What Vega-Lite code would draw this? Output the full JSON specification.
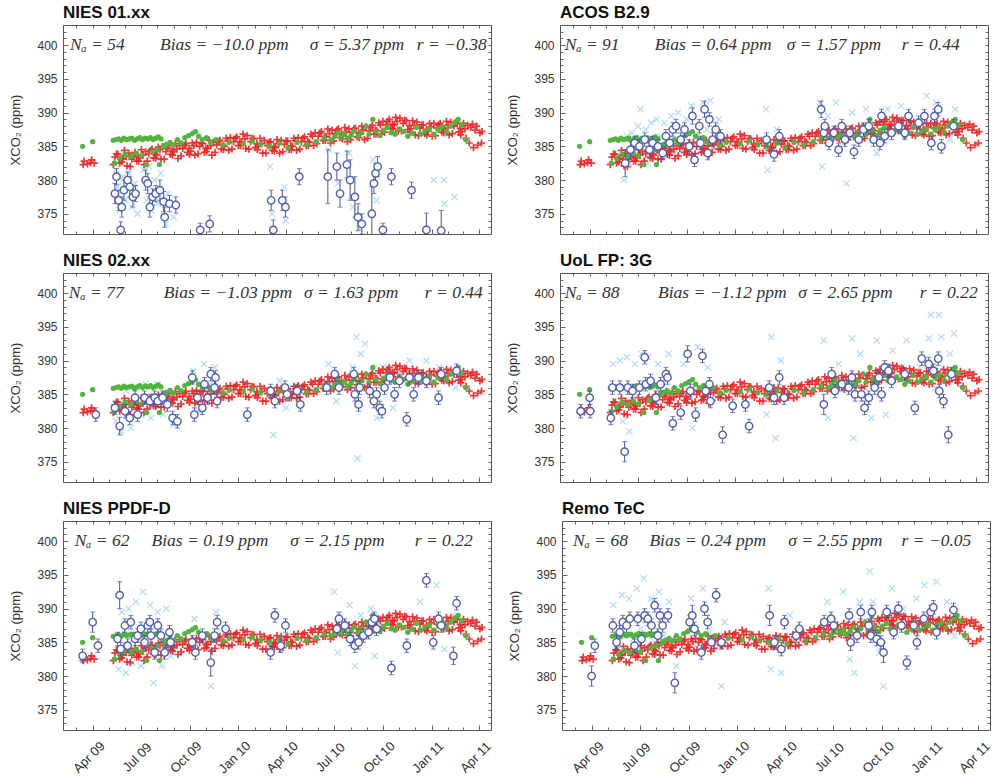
{
"$schema": "https://vega.github.io/schema/vega-lite/v6.json",
"background": "white",
"padding": {"left": 9, "top": 3, "right": 2, "bottom": 2},
"spacing": 16,
"config": {
  "view": {"stroke": "#555", "strokeWidth": 1},
  "font": "Liberation Sans",
  "axis": {"grid": false, "domain": false, "labelFont": "Liberation Sans", "labelFontSize": 12, "labelColor": "#333", "tickColor": "#666", "titleFont": "Liberation Sans", "titleFontWeight": "normal", "titleFontSize": 13, "titleColor": "#333"},
  "title": {"font": "Liberation Sans", "fontSize": 17, "fontWeight": "bold", "anchor": "start", "frame": "group", "offset": 3, "color": "#111"}
},
"datasets": {
"red": [
{"d":"2009-03-14","v":382.3},{"d":"2009-03-16","v":382.8},{"d":"2009-03-22","v":382.4},{"d":"2009-03-28","v":382.6},{"d":"2009-03-30","v":383.0},{"d":"2009-04-04","v":382.5},
{"d":"2009-05-10","v":382.3},{"d":"2009-05-13","v":383.4},{"d":"2009-05-16","v":383.9},
{"d":"2009-05-19","v":383.8},{"d":"2009-05-22","v":382.5},{"d":"2009-05-25","v":383.1},
{"d":"2009-05-28","v":383.2},{"d":"2009-05-31","v":384.4},{"d":"2009-05-26","v":382.7},
{"d":"2009-06-03","v":383.5},{"d":"2009-06-05","v":382.1},{"d":"2009-06-08","v":384.0},
{"d":"2009-06-11","v":382.0},{"d":"2009-06-14","v":383.1},{"d":"2009-06-17","v":383.6},
{"d":"2009-06-20","v":384.1},{"d":"2009-06-23","v":382.8},{"d":"2009-06-26","v":383.4},
{"d":"2009-06-29","v":383.3},{"d":"2009-07-02","v":384.5},{"d":"2009-06-27","v":382.8},
{"d":"2009-07-05","v":383.7},{"d":"2009-07-07","v":382.3},{"d":"2009-07-10","v":384.2},
{"d":"2009-07-13","v":382.8},{"d":"2009-07-16","v":383.9},{"d":"2009-07-19","v":384.4},
{"d":"2009-07-22","v":384.6},{"d":"2009-07-25","v":383.3},{"d":"2009-07-28","v":383.9},
{"d":"2009-07-31","v":383.7},{"d":"2009-08-03","v":384.9},{"d":"2009-07-29","v":383.2},
{"d":"2009-08-06","v":384.5},{"d":"2009-08-08","v":383.1},{"d":"2009-08-11","v":385.0},
{"d":"2009-08-14","v":383.1},{"d":"2009-08-17","v":384.2},{"d":"2009-08-20","v":384.7},
{"d":"2009-08-23","v":385.1},{"d":"2009-08-26","v":383.8},{"d":"2009-08-29","v":384.4},
{"d":"2009-09-01","v":384.2},{"d":"2009-09-04","v":385.4},{"d":"2009-08-30","v":383.7},
{"d":"2009-09-07","v":384.6},{"d":"2009-09-09","v":383.2},{"d":"2009-09-12","v":385.1},
{"d":"2009-09-15","v":383.6},{"d":"2009-09-18","v":384.7},{"d":"2009-09-21","v":385.2},
{"d":"2009-09-24","v":385.4},{"d":"2009-09-27","v":384.1},{"d":"2009-09-30","v":384.7},
{"d":"2009-10-03","v":384.3},{"d":"2009-10-06","v":385.5},{"d":"2009-10-01","v":383.8},
{"d":"2009-10-09","v":385.1},{"d":"2009-10-11","v":383.7},{"d":"2009-10-14","v":385.6},
{"d":"2009-10-17","v":383.9},{"d":"2009-10-20","v":385.0},{"d":"2009-10-23","v":385.5},
{"d":"2009-10-26","v":385.4},{"d":"2009-10-29","v":384.1},{"d":"2009-11-01","v":384.7},
{"d":"2009-11-04","v":384.7},{"d":"2009-11-07","v":385.9},{"d":"2009-11-02","v":384.2},
{"d":"2009-11-10","v":385.1},{"d":"2009-11-12","v":383.7},{"d":"2009-11-15","v":385.6},
{"d":"2009-11-18","v":384.1},{"d":"2009-11-21","v":385.2},{"d":"2009-11-24","v":385.7},
{"d":"2009-11-27","v":385.9},{"d":"2009-11-30","v":384.6},{"d":"2009-12-03","v":385.2},
{"d":"2009-12-06","v":385.0},{"d":"2009-12-09","v":386.2},{"d":"2009-12-04","v":384.5},
{"d":"2009-12-12","v":385.8},{"d":"2009-12-14","v":384.4},{"d":"2009-12-17","v":386.3},
{"d":"2009-12-20","v":384.6},{"d":"2009-12-23","v":385.7},{"d":"2009-12-26","v":386.2},
{"d":"2009-12-29","v":386.4},{"d":"2010-01-01","v":385.1},{"d":"2010-01-04","v":385.7},
{"d":"2010-01-07","v":385.6},{"d":"2010-01-10","v":386.8},{"d":"2010-01-05","v":385.1},
{"d":"2010-01-13","v":386.1},{"d":"2010-01-15","v":384.7},{"d":"2010-01-18","v":386.6},
{"d":"2010-01-21","v":384.6},{"d":"2010-01-24","v":385.7},{"d":"2010-01-27","v":386.2},
{"d":"2010-01-30","v":386.1},{"d":"2010-02-02","v":384.8},{"d":"2010-02-05","v":385.4},
{"d":"2010-02-08","v":385.0},{"d":"2010-02-11","v":386.2},{"d":"2010-02-06","v":384.5},
{"d":"2010-02-14","v":385.4},{"d":"2010-02-16","v":384.0},{"d":"2010-02-19","v":385.9},
{"d":"2010-02-22","v":384.0},{"d":"2010-02-25","v":385.1},{"d":"2010-02-28","v":385.6},
{"d":"2010-03-03","v":385.7},{"d":"2010-03-06","v":384.4},{"d":"2010-03-09","v":385.0},
{"d":"2010-03-12","v":384.8},{"d":"2010-03-15","v":386.0},{"d":"2010-03-10","v":384.3},
{"d":"2010-03-18","v":385.4},{"d":"2010-03-20","v":384.0},{"d":"2010-03-23","v":385.9},
{"d":"2010-03-26","v":384.2},{"d":"2010-03-29","v":385.3},{"d":"2010-04-01","v":385.8},
{"d":"2010-04-04","v":385.8},{"d":"2010-04-07","v":384.5},{"d":"2010-04-10","v":385.1},
{"d":"2010-04-13","v":385.0},{"d":"2010-04-16","v":386.2},{"d":"2010-04-11","v":384.5},
{"d":"2010-04-19","v":385.8},{"d":"2010-04-21","v":384.4},{"d":"2010-04-24","v":386.3},
{"d":"2010-04-27","v":384.6},{"d":"2010-04-30","v":385.7},{"d":"2010-05-03","v":386.2},
{"d":"2010-05-06","v":386.4},{"d":"2010-05-09","v":385.1},{"d":"2010-05-12","v":385.7},
{"d":"2010-05-15","v":385.6},{"d":"2010-05-18","v":386.8},{"d":"2010-05-13","v":385.1},
{"d":"2010-05-21","v":386.5},{"d":"2010-05-23","v":385.1},{"d":"2010-05-26","v":387.0},
{"d":"2010-05-29","v":385.4},{"d":"2010-06-01","v":386.5},{"d":"2010-06-04","v":387.0},
{"d":"2010-06-07","v":387.2},{"d":"2010-06-10","v":385.9},{"d":"2010-06-13","v":386.5},
{"d":"2010-06-16","v":386.4},{"d":"2010-06-19","v":387.6},{"d":"2010-06-14","v":385.9},
{"d":"2010-06-22","v":386.9},{"d":"2010-06-24","v":385.5},{"d":"2010-06-27","v":387.4},
{"d":"2010-06-30","v":385.8},{"d":"2010-07-03","v":386.9},{"d":"2010-07-06","v":387.4},
{"d":"2010-07-09","v":387.6},{"d":"2010-07-12","v":386.3},{"d":"2010-07-15","v":386.9},
{"d":"2010-07-18","v":386.6},{"d":"2010-07-21","v":387.8},{"d":"2010-07-16","v":386.1},
{"d":"2010-07-24","v":387.1},{"d":"2010-07-26","v":385.7},{"d":"2010-07-29","v":387.6},
{"d":"2010-08-01","v":386.0},{"d":"2010-08-04","v":387.1},{"d":"2010-08-07","v":387.6},
{"d":"2010-08-10","v":387.7},{"d":"2010-08-13","v":386.4},{"d":"2010-08-16","v":387.0},
{"d":"2010-08-19","v":386.8},{"d":"2010-08-22","v":388.0},{"d":"2010-08-17","v":386.3},
{"d":"2010-08-25","v":387.4},{"d":"2010-08-27","v":386.0},{"d":"2010-08-30","v":387.9},
{"d":"2010-09-02","v":386.2},{"d":"2010-09-05","v":387.3},{"d":"2010-09-08","v":387.8},
{"d":"2010-09-11","v":388.1},{"d":"2010-09-14","v":386.8},{"d":"2010-09-17","v":387.4},
{"d":"2010-09-20","v":387.3},{"d":"2010-09-23","v":388.5},{"d":"2010-09-18","v":386.8},
{"d":"2010-09-26","v":388.2},{"d":"2010-09-28","v":386.8},{"d":"2010-10-01","v":388.7},
{"d":"2010-10-04","v":387.1},{"d":"2010-10-07","v":388.2},{"d":"2010-10-10","v":388.7},
{"d":"2010-10-13","v":389.0},{"d":"2010-10-16","v":387.7},{"d":"2010-10-19","v":388.3},
{"d":"2010-10-22","v":388.1},{"d":"2010-10-25","v":389.3},{"d":"2010-10-20","v":387.6},
{"d":"2010-10-28","v":388.7},{"d":"2010-10-30","v":387.3},{"d":"2010-11-02","v":389.2},
{"d":"2010-11-05","v":387.3},{"d":"2010-11-08","v":388.4},{"d":"2010-11-11","v":388.9},
{"d":"2010-11-14","v":388.8},{"d":"2010-11-17","v":387.5},{"d":"2010-11-20","v":388.1},
{"d":"2010-11-23","v":387.6},{"d":"2010-11-26","v":388.8},{"d":"2010-11-21","v":387.1},
{"d":"2010-11-29","v":388.1},{"d":"2010-12-01","v":386.7},{"d":"2010-12-04","v":388.6},
{"d":"2010-12-07","v":386.6},{"d":"2010-12-10","v":387.7},{"d":"2010-12-13","v":388.2},
{"d":"2010-12-16","v":388.2},{"d":"2010-12-19","v":386.9},{"d":"2010-12-22","v":387.5},
{"d":"2010-12-25","v":387.2},{"d":"2010-12-28","v":388.4},{"d":"2010-12-23","v":386.7},
{"d":"2010-12-31","v":387.9},{"d":"2011-01-02","v":386.5},{"d":"2011-01-05","v":388.4},
{"d":"2011-01-08","v":386.6},{"d":"2011-01-11","v":387.7},{"d":"2011-01-14","v":388.2},
{"d":"2011-01-17","v":388.4},{"d":"2011-01-20","v":387.1},{"d":"2011-01-23","v":387.7},
{"d":"2011-01-26","v":387.5},{"d":"2011-01-29","v":388.7},{"d":"2011-01-24","v":387.0},
{"d":"2011-02-01","v":388.1},{"d":"2011-02-03","v":386.7},{"d":"2011-02-06","v":388.6},
{"d":"2011-02-09","v":386.9},{"d":"2011-02-12","v":388.0},{"d":"2011-02-15","v":388.5},
{"d":"2011-02-18","v":388.4},{"d":"2011-02-21","v":387.1},{"d":"2011-02-24","v":387.7},
{"d":"2011-02-27","v":387.2},{"d":"2011-03-02","v":388.4},{"d":"2011-02-25","v":386.7},
{"d":"2011-03-05","v":387.6},{"d":"2011-03-07","v":386.2},{"d":"2011-03-10","v":388.1},
{"d":"2011-03-13","v":385.5},{"d":"2011-03-16","v":387.8},{"d":"2011-03-19","v":388.3},
{"d":"2011-03-21","v":384.8},{"d":"2011-03-24","v":387.4},{"d":"2011-03-27","v":388.0},
{"d":"2011-03-29","v":385.2},{"d":"2011-04-02","v":387.0},{"d":"2011-04-05","v":385.5},{"d":"2011-04-06","v":387.2}
],
"green": [
{"d":"2009-03-13","v":385.0},{"d":"2009-04-01","v":385.7},
{"d":"2009-05-10","v":385.9},{"d":"2009-05-15","v":386.0},{"d":"2009-05-20","v":386.1},{"d":"2009-05-25","v":385.9},{"d":"2009-05-30","v":386.2},{"d":"2009-06-04","v":386.0},{"d":"2009-06-09","v":386.1},{"d":"2009-06-14","v":386.2},{"d":"2009-06-19","v":385.9},{"d":"2009-06-24","v":386.1},{"d":"2009-06-29","v":386.3},{"d":"2009-07-04","v":386.0},{"d":"2009-07-09","v":386.2},{"d":"2009-07-14","v":386.1},{"d":"2009-07-19","v":386.3},{"d":"2009-07-24","v":386.0},{"d":"2009-07-29","v":386.2},{"d":"2009-08-03","v":386.4},{"d":"2009-08-08","v":386.1},
{"d":"2009-05-12","v":382.5},{"d":"2009-05-22","v":383.2},{"d":"2009-06-01","v":383.8},{"d":"2009-06-12","v":383.5},{"d":"2009-06-22","v":384.0},{"d":"2009-07-02","v":383.6},{"d":"2009-07-12","v":382.3},{"d":"2009-07-22","v":384.2},{"d":"2009-08-01","v":384.5},{"d":"2009-08-05","v":382.3},{"d":"2009-08-12","v":385.0},{"d":"2009-08-18","v":385.3},{"d":"2009-08-25","v":385.6},{"d":"2009-09-01","v":385.2},{"d":"2009-09-08","v":386.0},{"d":"2009-09-15","v":385.5},{"d":"2009-09-22","v":386.3},{"d":"2009-09-29","v":386.6},{"d":"2009-10-06","v":386.9},{"d":"2009-10-12","v":387.2},{"d":"2009-10-18","v":386.5},{"d":"2009-10-25","v":386.0},{"d":"2009-11-02","v":386.3},{"d":"2009-11-10","v":385.6},{"d":"2009-11-20","v":386.0},{"d":"2009-12-03","v":385.2},{"d":"2009-12-15","v":385.6},
{"d":"2010-01-10","v":385.4},{"d":"2010-01-28","v":385.8},{"d":"2010-02-12","v":385.3},{"d":"2010-03-01","v":385.0},{"d":"2010-03-20","v":385.5},{"d":"2010-04-05","v":384.8},{"d":"2010-04-22","v":385.6},{"d":"2010-05-10","v":385.3},{"d":"2010-05-28","v":385.7},{"d":"2010-06-12","v":386.2},{"d":"2010-06-25","v":386.0},{"d":"2010-07-02","v":386.5},{"d":"2010-07-08","v":387.0},{"d":"2010-07-14","v":386.4},{"d":"2010-07-20","v":386.8},{"d":"2010-07-26","v":386.2},{"d":"2010-08-02","v":386.7},{"d":"2010-08-08","v":387.3},{"d":"2010-08-15","v":386.5},{"d":"2010-08-22","v":387.0},{"d":"2010-08-30","v":388.0},{"d":"2010-09-05","v":386.8},{"d":"2010-09-12","v":389.0},{"d":"2010-09-18","v":387.2},{"d":"2010-09-25","v":386.6},{"d":"2010-10-02","v":387.4},{"d":"2010-10-09","v":387.8},{"d":"2010-10-16","v":387.0},{"d":"2010-10-24","v":386.8},{"d":"2010-11-01","v":387.6},{"d":"2010-11-09","v":387.2},{"d":"2010-11-17","v":386.5},{"d":"2010-11-25","v":387.0},{"d":"2010-12-03","v":387.8},{"d":"2010-12-11","v":386.8},{"d":"2010-12-19","v":387.3},{"d":"2010-12-28","v":387.6},{"d":"2011-01-05","v":386.8},{"d":"2011-01-13","v":387.5},{"d":"2011-01-21","v":387.9},{"d":"2011-01-29","v":387.2},{"d":"2011-02-06","v":388.0},{"d":"2011-02-14","v":388.6},{"d":"2011-02-20","v":389.0},{"d":"2011-02-26","v":388.2},{"d":"2011-03-06","v":386.0}
],
"obs": [
{"p":1,"d":"2009-05-13","v":378.0,"e":1.5},{"p":1,"d":"2009-05-16","v":380.5,"e":1.2},{"p":1,"d":"2009-05-20","v":377.0,"e":1.5},{"p":1,"d":"2009-05-24","v":372.6,"e":1.2},{"p":1,"d":"2009-05-26","v":376.0,"e":1.5},{"p":1,"d":"2009-05-30","v":378.5,"e":1.5},{"p":1,"d":"2009-06-06","v":380.0,"e":1.2},{"p":1,"d":"2009-06-10","v":379.0,"e":1.5},{"p":1,"d":"2009-06-16","v":377.5,"e":1.5},{"p":1,"d":"2009-06-21","v":378.0,"e":1.2},{"p":1,"d":"2009-07-10","v":380.0,"e":1.5},{"p":1,"d":"2009-07-14","v":379.5,"e":1.5},{"p":1,"d":"2009-07-18","v":376.0,"e":1.5},{"p":1,"d":"2009-07-23","v":377.5,"e":1.2},{"p":1,"d":"2009-07-29","v":378.0,"e":1.2},{"p":1,"d":"2009-08-06","v":378.5,"e":1.5},{"p":1,"d":"2009-08-13","v":376.8,"e":1.5},{"p":1,"d":"2009-08-15","v":374.5,"e":1.5},{"p":1,"d":"2009-08-24","v":376.5,"e":1.2},{"p":1,"d":"2009-09-05","v":376.3,"e":1.2},{"p":1,"d":"2009-10-21","v":372.6,"e":1.0},{"p":1,"d":"2009-11-08","v":373.5,"e":1.2},{"p":1,"d":"2010-03-04","v":377.0,"e":1.5},{"p":1,"d":"2010-03-08","v":372.6,"e":1.5},{"p":1,"d":"2010-03-25","v":377.0,"e":1.5},{"p":1,"d":"2010-03-31","v":376.0,"e":1.5},{"p":1,"d":"2010-04-26","v":380.5,"e":1.2},{"p":1,"d":"2010-06-19","v":380.5,"e":4.0},{"p":1,"d":"2010-07-06","v":382.0,"e":2.0},{"p":1,"d":"2010-07-12","v":378.0,"e":2.0},{"p":1,"d":"2010-07-25","v":382.3,"e":2.0},{"p":1,"d":"2010-07-31","v":380.0,"e":3.0},{"p":1,"d":"2010-08-09","v":377.5,"e":3.0},{"p":1,"d":"2010-08-15","v":374.5,"e":2.0},{"p":1,"d":"2010-08-22","v":373.5,"e":1.5},{"p":1,"d":"2010-09-10","v":375.0,"e":4.0},{"p":1,"d":"2010-09-14","v":379.5,"e":1.5},{"p":1,"d":"2010-09-17","v":381.0,"e":1.5},{"p":1,"d":"2010-09-21","v":382.0,"e":1.5},{"p":1,"d":"2010-10-01","v":372.6,"e":1.0},{"p":1,"d":"2010-10-17","v":380.5,"e":1.2},{"p":1,"d":"2010-11-24","v":378.5,"e":1.2},{"p":1,"d":"2010-12-22","v":372.6,"e":2.5},{"p":1,"d":"2011-01-19","v":372.5,"e":3.0},
{"p":2,"d":"2009-06-07","v":382.5,"e":2.0},{"p":2,"d":"2009-06-17","v":384.5,"e":1.2},{"p":2,"d":"2009-06-25","v":385.5,"e":1.0},{"p":2,"d":"2009-07-04","v":385.0,"e":1.0},{"p":2,"d":"2009-07-14","v":386.0,"e":1.0},{"p":2,"d":"2009-07-23","v":384.5,"e":1.0},{"p":2,"d":"2009-07-29","v":385.5,"e":1.0},{"p":2,"d":"2009-08-08","v":385.0,"e":1.0},{"p":2,"d":"2009-08-17","v":384.0,"e":1.0},{"p":2,"d":"2009-08-23","v":386.5,"e":1.0},{"p":2,"d":"2009-08-30","v":385.5,"e":1.0},{"p":2,"d":"2009-09-05","v":387.5,"e":1.0},{"p":2,"d":"2009-09-11","v":388.0,"e":1.0},{"p":2,"d":"2009-09-20","v":386.0,"e":1.0},{"p":2,"d":"2009-09-27","v":387.5,"e":1.0},{"p":2,"d":"2009-10-06","v":385.0,"e":1.0},{"p":2,"d":"2009-10-12","v":389.5,"e":1.2},{"p":2,"d":"2009-10-16","v":383.0,"e":1.0},{"p":2,"d":"2009-10-25","v":388.0,"e":1.0},{"p":2,"d":"2009-10-27","v":385.5,"e":1.0},{"p":2,"d":"2009-11-04","v":390.5,"e":1.2},{"p":2,"d":"2009-11-10","v":384.0,"e":1.0},{"p":2,"d":"2009-11-13","v":389.0,"e":1.0},{"p":2,"d":"2009-11-19","v":386.0,"e":1.0},{"p":2,"d":"2009-11-25","v":387.5,"e":1.0},{"p":2,"d":"2009-12-04","v":386.5,"e":1.0},{"p":2,"d":"2010-03-01","v":386.0,"e":1.0},{"p":2,"d":"2010-03-15","v":383.8,"e":1.0},{"p":2,"d":"2010-03-25","v":386.5,"e":1.0},{"p":2,"d":"2010-06-12","v":390.5,"e":1.2},{"p":2,"d":"2010-06-17","v":387.0,"e":1.0},{"p":2,"d":"2010-06-19","v":388.0,"e":1.0},{"p":2,"d":"2010-06-27","v":385.5,"e":1.0},{"p":2,"d":"2010-07-06","v":387.0,"e":1.0},{"p":2,"d":"2010-07-15","v":384.5,"e":1.0},{"p":2,"d":"2010-07-21","v":388.0,"e":1.0},{"p":2,"d":"2010-07-27","v":386.0,"e":1.0},{"p":2,"d":"2010-08-05","v":387.0,"e":1.0},{"p":2,"d":"2010-08-13","v":384.2,"e":1.0},{"p":2,"d":"2010-08-22","v":386.0,"e":1.0},{"p":2,"d":"2010-08-31","v":387.5,"e":1.0},{"p":2,"d":"2010-09-10","v":388.0,"e":1.0},{"p":2,"d":"2010-09-19","v":386.0,"e":1.0},{"p":2,"d":"2010-10-01","v":385.5,"e":1.0},{"p":2,"d":"2010-10-04","v":389.5,"e":1.0},{"p":2,"d":"2010-10-10","v":386.5,"e":1.0},{"p":2,"d":"2010-10-23","v":387.0,"e":1.0},{"p":2,"d":"2010-11-05","v":388.0,"e":1.0},{"p":2,"d":"2010-11-17","v":387.0,"e":1.0},{"p":2,"d":"2010-11-24","v":389.5,"e":1.0},{"p":2,"d":"2010-12-13","v":388.5,"e":1.0},{"p":2,"d":"2010-12-24","v":389.5,"e":1.0},{"p":2,"d":"2011-01-06","v":385.5,"e":1.0},{"p":2,"d":"2011-01-12","v":389.5,"e":1.0},{"p":2,"d":"2011-01-19","v":390.5,"e":1.0},{"p":2,"d":"2011-01-25","v":385.0,"e":1.0},{"p":2,"d":"2011-02-17","v":388.0,"e":1.0},
{"p":3,"d":"2009-04-07","v":382.0,"e":1.0},{"p":3,"d":"2009-05-13","v":383.0,"e":1.0},{"p":3,"d":"2009-05-22","v":380.3,"e":1.3},{"p":3,"d":"2009-06-01","v":382.5,"e":1.0},{"p":3,"d":"2009-06-10","v":381.5,"e":1.0},{"p":3,"d":"2009-06-20","v":384.5,"e":1.0},{"p":3,"d":"2009-06-25","v":382.0,"e":1.0},{"p":3,"d":"2009-07-08","v":384.5,"e":1.0},{"p":3,"d":"2009-07-18","v":384.0,"e":1.0},{"p":3,"d":"2009-07-27","v":384.5,"e":1.0},{"p":3,"d":"2009-08-02","v":384.0,"e":1.0},{"p":3,"d":"2009-08-11","v":384.5,"e":1.0},{"p":3,"d":"2009-08-20","v":383.5,"e":1.0},{"p":3,"d":"2009-08-30","v":381.5,"e":1.0},{"p":3,"d":"2009-09-08","v":381.0,"e":1.0},{"p":3,"d":"2009-10-06","v":387.5,"e":1.0},{"p":3,"d":"2009-10-10","v":382.0,"e":1.0},{"p":3,"d":"2009-10-16","v":384.5,"e":1.0},{"p":3,"d":"2009-10-25","v":383.0,"e":1.0},{"p":3,"d":"2009-10-29","v":386.5,"e":1.0},{"p":3,"d":"2009-11-04","v":384.5,"e":1.0},{"p":3,"d":"2009-11-10","v":388.0,"e":1.0},{"p":3,"d":"2009-11-17","v":386.0,"e":1.0},{"p":3,"d":"2009-11-19","v":387.5,"e":1.0},{"p":3,"d":"2009-11-22","v":384.0,"e":1.0},{"p":3,"d":"2010-01-18","v":382.0,"e":1.0},{"p":3,"d":"2010-03-03","v":385.5,"e":1.0},{"p":3,"d":"2010-03-11","v":384.0,"e":1.0},{"p":3,"d":"2010-03-30","v":386.0,"e":1.0},{"p":3,"d":"2010-04-03","v":385.0,"e":1.0},{"p":3,"d":"2010-04-22","v":385.5,"e":1.0},{"p":3,"d":"2010-04-28","v":383.5,"e":1.0},{"p":3,"d":"2010-06-17","v":386.0,"e":1.0},{"p":3,"d":"2010-07-02","v":388.0,"e":1.0},{"p":3,"d":"2010-07-10","v":386.0,"e":1.0},{"p":3,"d":"2010-08-07","v":388.0,"e":1.0},{"p":3,"d":"2010-08-09","v":385.0,"e":1.0},{"p":3,"d":"2010-08-16","v":383.5,"e":1.0},{"p":3,"d":"2010-08-18","v":386.0,"e":1.0},{"p":3,"d":"2010-09-06","v":385.5,"e":1.0},{"p":3,"d":"2010-09-14","v":384.0,"e":1.0},{"p":3,"d":"2010-09-19","v":385.0,"e":1.0},{"p":3,"d":"2010-09-25","v":383.0,"e":1.0},{"p":3,"d":"2010-09-29","v":382.5,"e":1.0},{"p":3,"d":"2010-10-04","v":386.0,"e":1.0},{"p":3,"d":"2010-10-14","v":387.5,"e":1.0},{"p":3,"d":"2010-10-23","v":385.0,"e":1.0},{"p":3,"d":"2010-11-01","v":387.0,"e":1.0},{"p":3,"d":"2010-11-15","v":381.3,"e":1.0},{"p":3,"d":"2010-11-20","v":387.5,"e":1.0},{"p":3,"d":"2010-11-28","v":385.0,"e":1.0},{"p":3,"d":"2010-12-07","v":387.5,"e":1.0},{"p":3,"d":"2010-12-22","v":387.0,"e":1.0},{"p":3,"d":"2011-01-14","v":384.5,"e":1.0},{"p":3,"d":"2011-01-19","v":388.0,"e":1.0},{"p":3,"d":"2011-02-17","v":388.5,"e":1.0},
{"p":4,"d":"2009-03-15","v":382.5,"e":1.0},{"p":4,"d":"2009-04-01","v":384.5,"e":1.0},{"p":4,"d":"2009-04-02","v":382.5,"e":1.0},{"p":4,"d":"2009-05-11","v":381.5,"e":1.0},{"p":4,"d":"2009-05-14","v":386.0,"e":1.0},{"p":4,"d":"2009-05-28","v":386.0,"e":1.0},{"p":4,"d":"2009-06-06","v":376.5,"e":1.5},{"p":4,"d":"2009-06-12","v":386.0,"e":1.0},{"p":4,"d":"2009-06-21","v":385.5,"e":1.0},{"p":4,"d":"2009-07-04","v":386.0,"e":1.0},{"p":4,"d":"2009-07-14","v":390.5,"e":1.0},{"p":4,"d":"2009-07-16","v":386.5,"e":1.0},{"p":4,"d":"2009-07-25","v":387.0,"e":1.0},{"p":4,"d":"2009-08-04","v":384.5,"e":1.0},{"p":4,"d":"2009-08-13","v":386.5,"e":1.0},{"p":4,"d":"2009-08-23","v":388.0,"e":1.0},{"p":4,"d":"2009-08-26","v":387.5,"e":1.0},{"p":4,"d":"2009-09-05","v":380.7,"e":1.0},{"p":4,"d":"2009-09-20","v":382.3,"e":1.0},{"p":4,"d":"2009-10-03","v":391.0,"e":1.2},{"p":4,"d":"2009-10-08","v":385.5,"e":1.0},{"p":4,"d":"2009-10-18","v":382.0,"e":1.0},{"p":4,"d":"2009-10-31","v":390.7,"e":1.0},{"p":4,"d":"2009-11-06","v":385.5,"e":1.0},{"p":4,"d":"2009-11-13","v":386.5,"e":1.0},{"p":4,"d":"2009-11-15","v":384.0,"e":1.0},{"p":4,"d":"2009-12-08","v":379.0,"e":1.2},{"p":4,"d":"2009-12-27","v":383.3,"e":1.0},{"p":4,"d":"2010-01-20","v":383.5,"e":1.0},{"p":4,"d":"2010-01-27","v":380.3,"e":1.0},{"p":4,"d":"2010-03-06","v":386.0,"e":1.0},{"p":4,"d":"2010-03-15","v":384.5,"e":1.0},{"p":4,"d":"2010-03-25","v":387.5,"e":1.0},{"p":4,"d":"2010-04-03","v":384.5,"e":1.0},{"p":4,"d":"2010-06-17","v":383.5,"e":1.5},{"p":4,"d":"2010-07-02","v":388.0,"e":1.0},{"p":4,"d":"2010-07-08","v":385.5,"e":1.0},{"p":4,"d":"2010-07-21","v":386.5,"e":1.0},{"p":4,"d":"2010-08-03","v":386.0,"e":1.0},{"p":4,"d":"2010-08-09","v":387.5,"e":1.0},{"p":4,"d":"2010-08-15","v":385.0,"e":1.0},{"p":4,"d":"2010-08-27","v":385.0,"e":1.0},{"p":4,"d":"2010-09-02","v":383.0,"e":1.0},{"p":4,"d":"2010-09-10","v":384.5,"e":1.0},{"p":4,"d":"2010-09-21","v":386.0,"e":1.0},{"p":4,"d":"2010-09-29","v":387.5,"e":1.0},{"p":4,"d":"2010-10-04","v":385.0,"e":1.0},{"p":4,"d":"2010-10-10","v":389.0,"e":1.0},{"p":4,"d":"2010-10-17","v":388.5,"e":1.0},{"p":4,"d":"2010-10-23","v":387.0,"e":1.0},{"p":4,"d":"2010-11-17","v":388.0,"e":1.0},{"p":4,"d":"2010-12-06","v":383.0,"e":1.0},{"p":4,"d":"2010-12-19","v":390.3,"e":1.0},{"p":4,"d":"2011-01-01","v":389.5,"e":1.0},{"p":4,"d":"2011-01-10","v":388.5,"e":1.0},{"p":4,"d":"2011-01-19","v":390.3,"e":1.0},{"p":4,"d":"2011-01-21","v":385.5,"e":1.0},{"p":4,"d":"2011-01-29","v":384.0,"e":1.0},{"p":4,"d":"2011-02-07","v":379.0,"e":1.2},{"p":4,"d":"2011-02-13","v":388.0,"e":1.0},
{"p":5,"d":"2009-03-13","v":383.0,"e":1.0},{"p":5,"d":"2009-04-01","v":388.0,"e":1.5},{"p":5,"d":"2009-04-11","v":384.5,"e":1.0},{"p":5,"d":"2009-05-18","v":385.5,"e":1.0},{"p":5,"d":"2009-05-22","v":392.0,"e":2.0},{"p":5,"d":"2009-05-24","v":384.0,"e":1.0},{"p":5,"d":"2009-06-01","v":387.5,"e":1.0},{"p":5,"d":"2009-06-06","v":384.5,"e":1.0},{"p":5,"d":"2009-06-12","v":388.0,"e":1.0},{"p":5,"d":"2009-06-20","v":385.5,"e":1.0},{"p":5,"d":"2009-06-25","v":386.0,"e":1.0},{"p":5,"d":"2009-07-01","v":387.0,"e":1.0},{"p":5,"d":"2009-07-08","v":385.0,"e":1.0},{"p":5,"d":"2009-07-14","v":387.5,"e":1.0},{"p":5,"d":"2009-07-18","v":388.0,"e":1.0},{"p":5,"d":"2009-07-20","v":386.0,"e":1.0},{"p":5,"d":"2009-07-27","v":383.5,"e":1.0},{"p":5,"d":"2009-08-02","v":387.5,"e":1.0},{"p":5,"d":"2009-08-08","v":386.0,"e":1.0},{"p":5,"d":"2009-08-15","v":383.5,"e":1.0},{"p":5,"d":"2009-08-24","v":386.5,"e":1.0},{"p":5,"d":"2009-08-26","v":385.0,"e":1.0},{"p":5,"d":"2009-10-06","v":385.0,"e":1.0},{"p":5,"d":"2009-10-12","v":383.5,"e":1.0},{"p":5,"d":"2009-10-25","v":386.0,"e":1.0},{"p":5,"d":"2009-11-10","v":382.0,"e":2.0},{"p":5,"d":"2009-11-17","v":386.0,"e":1.0},{"p":5,"d":"2009-11-22","v":388.0,"e":1.0},{"p":5,"d":"2009-12-08","v":387.0,"e":1.0},{"p":5,"d":"2010-03-03","v":383.5,"e":1.0},{"p":5,"d":"2010-03-11","v":389.0,"e":1.0},{"p":5,"d":"2010-03-22","v":384.5,"e":1.0},{"p":5,"d":"2010-03-31","v":387.5,"e":1.0},{"p":5,"d":"2010-07-06","v":387.0,"e":1.0},{"p":5,"d":"2010-07-10","v":388.5,"e":1.0},{"p":5,"d":"2010-07-21","v":387.5,"e":1.0},{"p":5,"d":"2010-07-31","v":385.5,"e":1.0},{"p":5,"d":"2010-08-09","v":384.5,"e":1.0},{"p":5,"d":"2010-08-16","v":385.0,"e":1.0},{"p":5,"d":"2010-08-25","v":386.0,"e":1.0},{"p":5,"d":"2010-09-04","v":386.5,"e":1.0},{"p":5,"d":"2010-09-10","v":388.0,"e":1.0},{"p":5,"d":"2010-09-15","v":388.5,"e":1.0},{"p":5,"d":"2010-09-19","v":387.0,"e":1.0},{"p":5,"d":"2010-10-17","v":381.2,"e":1.0},{"p":5,"d":"2010-11-15","v":384.5,"e":1.0},{"p":5,"d":"2010-12-22","v":394.2,"e":1.0},{"p":5,"d":"2011-01-04","v":385.0,"e":1.0},{"p":5,"d":"2011-01-14","v":388.5,"e":1.0},{"p":5,"d":"2011-01-19","v":387.5,"e":1.0},{"p":5,"d":"2011-02-11","v":383.0,"e":1.3},{"p":5,"d":"2011-02-17","v":390.8,"e":1.0},
{"p":6,"d":"2009-04-01","v":380.0,"e":1.5},{"p":6,"d":"2009-04-07","v":384.5,"e":1.0},{"p":6,"d":"2009-05-11","v":387.5,"e":1.0},{"p":6,"d":"2009-05-18","v":385.0,"e":1.0},{"p":6,"d":"2009-05-24","v":386.5,"e":1.0},{"p":6,"d":"2009-05-30","v":388.0,"e":1.0},{"p":6,"d":"2009-06-06","v":387.5,"e":1.0},{"p":6,"d":"2009-06-12","v":388.5,"e":1.0},{"p":6,"d":"2009-06-21","v":384.5,"e":1.0},{"p":6,"d":"2009-06-27","v":388.5,"e":1.0},{"p":6,"d":"2009-07-04","v":385.5,"e":1.0},{"p":6,"d":"2009-07-10","v":389.0,"e":1.0},{"p":6,"d":"2009-07-16","v":388.5,"e":1.0},{"p":6,"d":"2009-07-23","v":387.5,"e":1.0},{"p":6,"d":"2009-07-29","v":390.5,"e":1.0},{"p":6,"d":"2009-08-04","v":386.0,"e":1.0},{"p":6,"d":"2009-08-08","v":389.0,"e":1.0},{"p":6,"d":"2009-08-13","v":387.5,"e":1.0},{"p":6,"d":"2009-08-23","v":389.0,"e":1.0},{"p":6,"d":"2009-09-05","v":379.0,"e":1.5},{"p":6,"d":"2009-10-03","v":388.0,"e":1.0},{"p":6,"d":"2009-10-08","v":389.0,"e":1.5},{"p":6,"d":"2009-10-12","v":387.0,"e":1.0},{"p":6,"d":"2009-10-25","v":383.5,"e":1.0},{"p":6,"d":"2009-10-31","v":390.0,"e":1.0},{"p":6,"d":"2009-11-06","v":388.0,"e":1.0},{"p":6,"d":"2009-11-13","v":385.0,"e":1.0},{"p":6,"d":"2009-11-22","v":392.0,"e":1.0},{"p":6,"d":"2009-12-02","v":385.0,"e":1.0},{"p":6,"d":"2010-03-03","v":389.0,"e":1.5},{"p":6,"d":"2010-03-12","v":385.0,"e":1.0},{"p":6,"d":"2010-03-25","v":384.0,"e":1.0},{"p":6,"d":"2010-03-31","v":388.0,"e":1.0},{"p":6,"d":"2010-04-22","v":386.0,"e":1.0},{"p":6,"d":"2010-04-28","v":387.0,"e":1.0},{"p":6,"d":"2010-06-14","v":388.0,"e":1.0},{"p":6,"d":"2010-06-27","v":388.5,"e":1.0},{"p":6,"d":"2010-07-02","v":387.5,"e":1.0},{"p":6,"d":"2010-07-31","v":389.0,"e":1.0},{"p":6,"d":"2010-08-03","v":385.0,"e":1.2},{"p":6,"d":"2010-08-15","v":386.0,"e":1.0},{"p":6,"d":"2010-08-22","v":389.5,"e":1.0},{"p":6,"d":"2010-09-06","v":387.5,"e":1.0},{"p":6,"d":"2010-09-10","v":386.0,"e":1.0},{"p":6,"d":"2010-09-12","v":389.5,"e":1.0},{"p":6,"d":"2010-09-21","v":385.5,"e":1.0},{"p":6,"d":"2010-09-29","v":385.0,"e":1.0},{"p":6,"d":"2010-10-04","v":383.5,"e":1.5},{"p":6,"d":"2010-10-10","v":389.5,"e":1.0},{"p":6,"d":"2010-10-23","v":386.5,"e":1.0},{"p":6,"d":"2010-11-01","v":390.0,"e":1.0},{"p":6,"d":"2010-11-07","v":387.5,"e":1.0},{"p":6,"d":"2010-11-17","v":382.0,"e":1.0},{"p":6,"d":"2010-11-30","v":387.5,"e":1.0},{"p":6,"d":"2010-12-06","v":385.0,"e":1.0},{"p":6,"d":"2010-12-19","v":388.5,"e":1.0},{"p":6,"d":"2011-01-01","v":389.5,"e":1.0},{"p":6,"d":"2011-01-06","v":390.2,"e":1.0},{"p":6,"d":"2011-01-12","v":386.5,"e":1.0},{"p":6,"d":"2011-02-13","v":389.8,"e":1.0}
],
"cross": [
{"p":1,"d":"2009-05-15","v":381.5},{"p":1,"d":"2009-05-18","v":379.0},{"p":1,"d":"2009-05-22","v":375.5},{"p":1,"d":"2009-05-28","v":380.5},{"p":1,"d":"2009-06-02","v":377.0},{"p":1,"d":"2009-06-08","v":381.0},{"p":1,"d":"2009-06-14","v":376.0},{"p":1,"d":"2009-06-20","v":379.5},{"p":1,"d":"2009-06-25","v":375.0},{"p":1,"d":"2009-07-06","v":381.5},{"p":1,"d":"2009-07-12","v":377.0},{"p":1,"d":"2009-07-16","v":382.0},{"p":1,"d":"2009-07-21","v":375.5},{"p":1,"d":"2009-07-27","v":380.0},{"p":1,"d":"2009-08-02","v":376.5},{"p":1,"d":"2009-08-08","v":381.0},{"p":1,"d":"2009-08-17","v":373.5},{"p":1,"d":"2009-08-20","v":378.0},{"p":1,"d":"2009-09-01","v":374.5},{"p":1,"d":"2010-03-02","v":382.0},{"p":1,"d":"2010-03-06","v":375.0},{"p":1,"d":"2010-03-29","v":379.0},{"p":1,"d":"2010-04-01","v":374.0},{"p":1,"d":"2010-06-21","v":384.5},{"p":1,"d":"2010-07-08","v":379.5},{"p":1,"d":"2010-07-29","v":384.0},{"p":1,"d":"2010-08-05","v":376.0},{"p":1,"d":"2010-08-17","v":372.8},{"p":1,"d":"2010-09-12","v":383.0},{"p":1,"d":"2010-09-19","v":377.0},{"p":1,"d":"2011-01-05","v":380.0},{"p":1,"d":"2011-01-24","v":380.0},{"p":1,"d":"2011-01-25","v":376.5},{"p":1,"d":"2011-02-13","v":377.5},
{"p":2,"d":"2009-06-05","v":380.0},{"p":2,"d":"2009-06-10","v":386.5},{"p":2,"d":"2009-06-15","v":382.5},{"p":2,"d":"2009-06-20","v":387.0},{"p":2,"d":"2009-06-25","v":383.5},{"p":2,"d":"2009-07-01","v":388.0},{"p":2,"d":"2009-07-06","v":390.5},{"p":2,"d":"2009-07-10","v":383.0},{"p":2,"d":"2009-07-16","v":387.5},{"p":2,"d":"2009-07-20","v":382.5},{"p":2,"d":"2009-07-26","v":388.5},{"p":2,"d":"2009-08-01","v":383.5},{"p":2,"d":"2009-08-05","v":389.0},{"p":2,"d":"2009-08-12","v":386.5},{"p":2,"d":"2009-08-20","v":388.5},{"p":2,"d":"2009-08-25","v":383.5},{"p":2,"d":"2009-09-02","v":389.5},{"p":2,"d":"2009-09-08","v":384.0},{"p":2,"d":"2009-09-15","v":390.0},{"p":2,"d":"2009-09-22","v":384.5},{"p":2,"d":"2009-10-01","v":389.0},{"p":2,"d":"2009-10-10","v":391.0},{"p":2,"d":"2009-10-20","v":386.5},{"p":2,"d":"2009-11-01","v":391.5},{"p":2,"d":"2009-11-08","v":387.5},{"p":2,"d":"2009-11-15","v":391.8},{"p":2,"d":"2009-11-22","v":384.5},{"p":2,"d":"2009-12-01","v":389.0},{"p":2,"d":"2010-02-28","v":390.5},{"p":2,"d":"2010-03-03","v":381.5},{"p":2,"d":"2010-03-20","v":387.5},{"p":2,"d":"2010-06-10","v":391.5},{"p":2,"d":"2010-06-14","v":382.0},{"p":2,"d":"2010-06-25","v":389.5},{"p":2,"d":"2010-07-10","v":391.5},{"p":2,"d":"2010-07-30","v":379.5},{"p":2,"d":"2010-08-10","v":390.0},{"p":2,"d":"2010-09-05","v":390.5},{"p":2,"d":"2010-09-25","v":384.0},{"p":2,"d":"2010-10-15","v":390.5},{"p":2,"d":"2010-11-10","v":391.0},{"p":2,"d":"2010-12-05","v":387.0},{"p":2,"d":"2010-12-28","v":392.5},{"p":2,"d":"2011-01-15","v":391.5},{"p":2,"d":"2011-02-20","v":390.5},{"p":2,"d":"2011-02-10","v":386.0},
{"p":3,"d":"2009-05-15","v":381.0},{"p":3,"d":"2009-05-25","v":379.5},{"p":3,"d":"2009-06-03","v":385.5},{"p":3,"d":"2009-06-12","v":380.0},{"p":3,"d":"2009-06-22","v":386.0},{"p":3,"d":"2009-07-01","v":382.0},{"p":3,"d":"2009-07-10","v":386.5},{"p":3,"d":"2009-07-20","v":381.5},{"p":3,"d":"2009-08-01","v":386.5},{"p":3,"d":"2009-08-12","v":382.0},{"p":3,"d":"2009-08-22","v":385.5},{"p":3,"d":"2009-09-01","v":380.5},{"p":3,"d":"2009-10-08","v":388.5},{"p":3,"d":"2009-10-18","v":382.5},{"p":3,"d":"2009-10-28","v":389.5},{"p":3,"d":"2009-11-08","v":386.5},{"p":3,"d":"2009-11-18","v":389.0},{"p":3,"d":"2010-03-08","v":379.0},{"p":3,"d":"2010-03-20","v":387.0},{"p":3,"d":"2010-04-01","v":383.0},{"p":3,"d":"2010-06-20","v":389.5},{"p":3,"d":"2010-07-05","v":384.0},{"p":3,"d":"2010-08-05","v":389.0},{"p":3,"d":"2010-08-12","v":393.5},{"p":3,"d":"2010-08-14","v":375.5},{"p":3,"d":"2010-08-20","v":391.0},{"p":3,"d":"2010-08-28","v":392.5},{"p":3,"d":"2010-09-10","v":388.5},{"p":3,"d":"2010-09-20","v":381.5},{"p":3,"d":"2010-10-01","v":389.0},{"p":3,"d":"2010-10-20","v":383.0},{"p":3,"d":"2010-11-20","v":390.0},{"p":3,"d":"2010-12-22","v":390.0},{"p":3,"d":"2011-01-15","v":389.0},{"p":3,"d":"2011-02-15","v":386.0},
{"p":4,"d":"2009-05-15","v":389.5},{"p":4,"d":"2009-05-20","v":383.0},{"p":4,"d":"2009-05-28","v":390.0},{"p":4,"d":"2009-06-03","v":381.0},{"p":4,"d":"2009-06-10","v":390.5},{"p":4,"d":"2009-06-15","v":379.5},{"p":4,"d":"2009-06-25","v":389.5},{"p":4,"d":"2009-07-01","v":383.5},{"p":4,"d":"2009-07-08","v":391.0},{"p":4,"d":"2009-07-12","v":384.0},{"p":4,"d":"2009-07-20","v":390.5},{"p":4,"d":"2009-08-01","v":383.5},{"p":4,"d":"2009-08-08","v":389.5},{"p":4,"d":"2009-08-18","v":383.0},{"p":4,"d":"2009-08-28","v":391.0},{"p":4,"d":"2009-09-08","v":384.5},{"p":4,"d":"2009-09-25","v":389.5},{"p":4,"d":"2009-10-12","v":380.0},{"p":4,"d":"2009-10-22","v":392.0},{"p":4,"d":"2009-11-10","v":389.0},{"p":4,"d":"2010-03-01","v":382.0},{"p":4,"d":"2010-03-10","v":393.5},{"p":4,"d":"2010-03-18","v":378.5},{"p":4,"d":"2010-03-28","v":390.0},{"p":4,"d":"2010-06-17","v":393.0},{"p":4,"d":"2010-06-25","v":381.5},{"p":4,"d":"2010-07-15","v":389.5},{"p":4,"d":"2010-08-10","v":393.3},{"p":4,"d":"2010-08-12","v":378.5},{"p":4,"d":"2010-08-25","v":391.0},{"p":4,"d":"2010-09-15","v":381.5},{"p":4,"d":"2010-09-25","v":393.0},{"p":4,"d":"2010-10-12","v":382.0},{"p":4,"d":"2010-10-25","v":391.5},{"p":4,"d":"2010-11-20","v":393.0},{"p":4,"d":"2010-12-15","v":389.0},{"p":4,"d":"2011-01-01","v":393.3},{"p":4,"d":"2011-01-05","v":396.8},{"p":4,"d":"2011-01-20","v":396.8},{"p":4,"d":"2011-01-25","v":393.5},{"p":4,"d":"2011-02-10","v":391.0},{"p":4,"d":"2011-02-18","v":394.0},{"p":4,"d":"2011-01-14","v":386.0},
{"p":5,"d":"2009-05-20","v":381.0},{"p":5,"d":"2009-05-26","v":389.5},{"p":5,"d":"2009-06-03","v":380.5},{"p":5,"d":"2009-06-08","v":390.0},{"p":5,"d":"2009-06-15","v":382.0},{"p":5,"d":"2009-06-22","v":391.0},{"p":5,"d":"2009-07-01","v":381.5},{"p":5,"d":"2009-07-05","v":392.5},{"p":5,"d":"2009-07-12","v":383.0},{"p":5,"d":"2009-07-18","v":390.5},{"p":5,"d":"2009-07-25","v":379.0},{"p":5,"d":"2009-08-02","v":389.5},{"p":5,"d":"2009-08-10","v":381.5},{"p":5,"d":"2009-08-18","v":390.0},{"p":5,"d":"2009-08-26","v":383.0},{"p":5,"d":"2009-10-10","v":388.5},{"p":5,"d":"2009-11-10","v":378.5},{"p":5,"d":"2009-11-20","v":389.5},{"p":5,"d":"2010-03-05","v":385.0},{"p":5,"d":"2010-07-01","v":392.5},{"p":5,"d":"2010-07-08","v":383.5},{"p":5,"d":"2010-07-30","v":390.5},{"p":5,"d":"2010-08-09","v":381.5},{"p":5,"d":"2010-08-20","v":389.0},{"p":5,"d":"2010-09-08","v":390.0},{"p":5,"d":"2010-09-15","v":383.0},{"p":5,"d":"2010-12-10","v":391.0},{"p":5,"d":"2011-01-10","v":393.5},{"p":5,"d":"2011-01-25","v":384.0},{"p":5,"d":"2011-02-10","v":389.0},
{"p":6,"d":"2009-05-12","v":390.5},{"p":6,"d":"2009-05-20","v":384.0},{"p":6,"d":"2009-05-28","v":392.0},{"p":6,"d":"2009-06-03","v":386.0},{"p":6,"d":"2009-06-10","v":391.5},{"p":6,"d":"2009-06-18","v":385.5},{"p":6,"d":"2009-06-25","v":393.0},{"p":6,"d":"2009-07-02","v":387.0},{"p":6,"d":"2009-07-08","v":394.5},{"p":6,"d":"2009-07-15","v":386.0},{"p":6,"d":"2009-07-22","v":391.5},{"p":6,"d":"2009-07-30","v":385.0},{"p":6,"d":"2009-08-06","v":392.5},{"p":6,"d":"2009-08-15","v":386.0},{"p":6,"d":"2009-08-25","v":391.0},{"p":6,"d":"2009-09-08","v":381.5},{"p":6,"d":"2009-10-05","v":391.5},{"p":6,"d":"2009-10-15","v":384.5},{"p":6,"d":"2009-10-28","v":393.0},{"p":6,"d":"2009-11-10","v":386.5},{"p":6,"d":"2009-12-02","v":378.5},{"p":6,"d":"2009-12-08","v":388.0},{"p":6,"d":"2010-03-01","v":393.0},{"p":6,"d":"2010-03-05","v":381.0},{"p":6,"d":"2010-03-25","v":380.5},{"p":6,"d":"2010-04-10","v":389.0},{"p":6,"d":"2010-06-20","v":391.0},{"p":6,"d":"2010-07-20","v":392.5},{"p":6,"d":"2010-08-01","v":382.5},{"p":6,"d":"2010-08-10","v":380.5},{"p":6,"d":"2010-08-20","v":391.0},{"p":6,"d":"2010-09-08","v":395.5},{"p":6,"d":"2010-09-14","v":391.0},{"p":6,"d":"2010-09-26","v":383.5},{"p":6,"d":"2010-10-04","v":378.5},{"p":6,"d":"2010-10-20","v":393.0},{"p":6,"d":"2010-11-10","v":390.0},{"p":6,"d":"2010-12-05","v":391.5},{"p":6,"d":"2010-12-20","v":393.5},{"p":6,"d":"2011-01-12","v":394.0},{"p":6,"d":"2011-02-01","v":391.0},{"p":6,"d":"2011-02-15","v":386.0}
],
"ann": [
{"p":1,"d":"2009-02-17","v":400,"t":"Nₐ = 54"},{"p":1,"d":"2009-08-06","v":400,"t":"Bias = −10.0 ppm"},{"p":1,"d":"2010-05-16","v":400,"t":"σ = 5.37 ppm"},{"p":1,"d":"2010-12-04","v":400,"t":"r = −0.38"},
{"p":2,"d":"2009-02-13","v":400,"t":"Nₐ = 91"},{"p":2,"d":"2009-08-02","v":400,"t":"Bias = 0.64 ppm"},{"p":2,"d":"2010-04-08","v":400,"t":"σ = 1.57 ppm"},{"p":2,"d":"2010-11-11","v":400,"t":"r = 0.44"},
{"p":3,"d":"2009-02-15","v":400,"t":"Nₐ = 77"},{"p":3,"d":"2009-08-13","v":400,"t":"Bias = −1.03 ppm"},{"p":3,"d":"2010-05-05","v":400,"t":"σ = 1.63 ppm"},{"p":3,"d":"2010-12-19","v":400,"t":"r = 0.44"},
{"p":4,"d":"2009-02-13","v":400,"t":"Nₐ = 88"},{"p":4,"d":"2009-08-08","v":400,"t":"Bias = −1.12 ppm"},{"p":4,"d":"2010-04-30","v":400,"t":"σ = 2.65 ppm"},{"p":4,"d":"2010-12-15","v":400,"t":"r = 0.22"},
{"p":5,"d":"2009-02-26","v":400,"t":"Nₐ = 62"},{"p":5,"d":"2009-07-21","v":400,"t":"Bias = 0.19 ppm"},{"p":5,"d":"2010-04-09","v":400,"t":"σ = 2.15 ppm"},{"p":5,"d":"2010-11-30","v":400,"t":"r = 0.22"},
{"p":6,"d":"2009-02-25","v":400,"t":"Nₐ = 68"},{"p":6,"d":"2009-07-19","v":400,"t":"Bias = 0.24 ppm"},{"p":6,"d":"2010-04-07","v":400,"t":"σ = 2.55 ppm"},{"p":6,"d":"2010-11-07","v":400,"t":"r = −0.05"}
]
},
"vconcat": [
{"hconcat": [
{"title": "NIES 01.xx", "width": 428, "height": 209, "resolve": {"axis": {"x": "independent", "y": "independent"}},
 "layer": [
  {"data": {"name": "cross"}, "transform": [{"filter": "datum.p == 1"}], "mark": {"type": "point", "shape": "M-1,-1L1,1M-1,1L1,-1", "filled": false, "size": 38, "strokeWidth": 1.3, "color": "#a3d6f2", "opacity": 0.8, "clip": true},
   "encoding": {"x": {"field": "d", "type": "temporal", "scale": {"type": "utc", "nice": false, "domain": [{"year": 2009, "month": 2, "date": 4, "utc": true}, {"year": 2011, "month": 4, "date": 23, "utc": true}]}, "axis": {"orient": "top", "labels": false, "title": null, "tickCount": {"interval": "month", "step": 1}, "tickSize": 3, "offset": -3}},
    "y": {"field": "v", "type": "quantitative", "scale": {"domain": [372, 403], "nice": false, "zero": false}, "axis": {"orient": "right", "labels": false, "title": null, "values": [372,373,374,375,376,377,378,379,380,381,382,383,384,385,386,387,388,389,390,391,392,393,394,395,396,397,398,399,400,401,402,403], "tickSize": 3, "offset": -3}}}},
  {"data": {"name": "red"}, "mark": {"type": "point", "shape": "M-1,0L1,0M0,-1L0,1", "filled": false, "size": 52, "strokeWidth": 1.7, "color": "#ec2524", "opacity": 0.9, "clip": true},
   "encoding": {"x": {"field": "d", "type": "temporal", "axis": {"orient": "bottom", "labels": false, "title": null, "tickCount": {"interval": "month", "step": 3}, "tickSize": 5, "offset": -5}},
    "y": {"field": "v", "type": "quantitative", "axis": {"orient": "left", "title": "XCO₂ (ppm)", "values": [375, 380, 385, 390, 395, 400], "tickSize": 5, "offset": -5, "labelPadding": 6, "titlePadding": 14}}}},
  {"data": {"name": "green"}, "mark": {"type": "circle", "size": 28, "color": "#52b43f", "opacity": 1, "clip": true},
   "encoding": {"x": {"field": "d", "type": "temporal", "axis": {"orient": "bottom", "labels": false, "title": null, "tickCount": {"interval": "month", "step": 1}, "tickSize": 3, "offset": -3}},
    "y": {"field": "v", "type": "quantitative", "axis": {"orient": "left", "labels": false, "title": null, "values": [372,373,374,375,376,377,378,379,380,381,382,383,384,385,386,387,388,389,390,391,392,393,394,395,396,397,398,399,400,401,402,403], "tickSize": 3, "offset": -3}}}},
  {"data": {"name": "obs"}, "transform": [{"filter": "datum.p == 1"}], "mark": {"type": "errorbar", "ticks": true, "color": "#4553a6", "thickness": 1, "size": 5, "clip": true},
   "encoding": {"x": {"field": "d", "type": "temporal", "axis": null}, "y": {"field": "v", "type": "quantitative", "axis": null}, "yError": {"field": "e"}}},
  {"data": {"name": "obs"}, "transform": [{"filter": "datum.p == 1"}], "mark": {"type": "point", "shape": "circle", "filled": true, "fill": "white", "stroke": "#5060b2", "strokeWidth": 1.4, "size": 55, "opacity": 1, "clip": true},
   "encoding": {"x": {"field": "d", "type": "temporal", "axis": null}, "y": {"field": "v", "type": "quantitative", "axis": null}}},
  {"data": {"name": "ann"}, "transform": [{"filter": "datum.p == 1"}], "mark": {"type": "text", "font": "Liberation Serif", "fontStyle": "italic", "fontSize": 17.5, "align": "left", "baseline": "middle", "color": "#333"},
   "encoding": {"x": {"field": "d", "type": "temporal", "axis": null}, "y": {"field": "v", "type": "quantitative", "axis": null}, "text": {"field": "t"}}}
 ]},
{"title": "ACOS B2.9", "width": 428, "height": 209, "resolve": {"axis": {"x": "independent", "y": "independent"}},
 "layer": [
  {"data": {"name": "cross"}, "transform": [{"filter": "datum.p == 2"}], "mark": {"type": "point", "shape": "M-1,-1L1,1M-1,1L1,-1", "filled": false, "size": 38, "strokeWidth": 1.3, "color": "#a3d6f2", "opacity": 0.8, "clip": true},
   "encoding": {"x": {"field": "d", "type": "temporal", "scale": {"type": "utc", "nice": false, "domain": [{"year": 2009, "month": 2, "date": 4, "utc": true}, {"year": 2011, "month": 4, "date": 23, "utc": true}]}, "axis": {"orient": "top", "labels": false, "title": null, "tickCount": {"interval": "month", "step": 1}, "tickSize": 3, "offset": -3}},
    "y": {"field": "v", "type": "quantitative", "scale": {"domain": [372, 403], "nice": false, "zero": false}, "axis": {"orient": "right", "labels": false, "title": null, "values": [372,373,374,375,376,377,378,379,380,381,382,383,384,385,386,387,388,389,390,391,392,393,394,395,396,397,398,399,400,401,402,403], "tickSize": 3, "offset": -3}}}},
  {"data": {"name": "red"}, "mark": {"type": "point", "shape": "M-1,0L1,0M0,-1L0,1", "filled": false, "size": 52, "strokeWidth": 1.7, "color": "#ec2524", "opacity": 0.9, "clip": true},
   "encoding": {"x": {"field": "d", "type": "temporal", "axis": {"orient": "bottom", "labels": false, "title": null, "tickCount": {"interval": "month", "step": 3}, "tickSize": 5, "offset": -5}},
    "y": {"field": "v", "type": "quantitative", "axis": {"orient": "left", "title": "XCO₂ (ppm)", "values": [375, 380, 385, 390, 395, 400], "tickSize": 5, "offset": -5, "labelPadding": 6, "titlePadding": 14}}}},
  {"data": {"name": "green"}, "mark": {"type": "circle", "size": 28, "color": "#52b43f", "opacity": 1, "clip": true},
   "encoding": {"x": {"field": "d", "type": "temporal", "axis": {"orient": "bottom", "labels": false, "title": null, "tickCount": {"interval": "month", "step": 1}, "tickSize": 3, "offset": -3}},
    "y": {"field": "v", "type": "quantitative", "axis": {"orient": "left", "labels": false, "title": null, "values": [372,373,374,375,376,377,378,379,380,381,382,383,384,385,386,387,388,389,390,391,392,393,394,395,396,397,398,399,400,401,402,403], "tickSize": 3, "offset": -3}}}},
  {"data": {"name": "obs"}, "transform": [{"filter": "datum.p == 2"}], "mark": {"type": "errorbar", "ticks": true, "color": "#4553a6", "thickness": 1, "size": 5, "clip": true},
   "encoding": {"x": {"field": "d", "type": "temporal", "axis": null}, "y": {"field": "v", "type": "quantitative", "axis": null}, "yError": {"field": "e"}}},
  {"data": {"name": "obs"}, "transform": [{"filter": "datum.p == 2"}], "mark": {"type": "point", "shape": "circle", "filled": true, "fill": "white", "stroke": "#5060b2", "strokeWidth": 1.4, "size": 55, "opacity": 1, "clip": true},
   "encoding": {"x": {"field": "d", "type": "temporal", "axis": null}, "y": {"field": "v", "type": "quantitative", "axis": null}}},
  {"data": {"name": "ann"}, "transform": [{"filter": "datum.p == 2"}], "mark": {"type": "text", "font": "Liberation Serif", "fontStyle": "italic", "fontSize": 17.5, "align": "left", "baseline": "middle", "color": "#333"},
   "encoding": {"x": {"field": "d", "type": "temporal", "axis": null}, "y": {"field": "v", "type": "quantitative", "axis": null}, "text": {"field": "t"}}}
 ]}
], "spacing": 14},
{"hconcat": [
{"title": "NIES 02.xx", "width": 428, "height": 209, "resolve": {"axis": {"x": "independent", "y": "independent"}},
 "layer": [
  {"data": {"name": "cross"}, "transform": [{"filter": "datum.p == 3"}], "mark": {"type": "point", "shape": "M-1,-1L1,1M-1,1L1,-1", "filled": false, "size": 38, "strokeWidth": 1.3, "color": "#a3d6f2", "opacity": 0.8, "clip": true},
   "encoding": {"x": {"field": "d", "type": "temporal", "scale": {"type": "utc", "nice": false, "domain": [{"year": 2009, "month": 2, "date": 4, "utc": true}, {"year": 2011, "month": 4, "date": 23, "utc": true}]}, "axis": {"orient": "top", "labels": false, "title": null, "tickCount": {"interval": "month", "step": 1}, "tickSize": 3, "offset": -3}},
    "y": {"field": "v", "type": "quantitative", "scale": {"domain": [372, 403], "nice": false, "zero": false}, "axis": {"orient": "right", "labels": false, "title": null, "values": [372,373,374,375,376,377,378,379,380,381,382,383,384,385,386,387,388,389,390,391,392,393,394,395,396,397,398,399,400,401,402,403], "tickSize": 3, "offset": -3}}}},
  {"data": {"name": "red"}, "mark": {"type": "point", "shape": "M-1,0L1,0M0,-1L0,1", "filled": false, "size": 52, "strokeWidth": 1.7, "color": "#ec2524", "opacity": 0.9, "clip": true},
   "encoding": {"x": {"field": "d", "type": "temporal", "axis": {"orient": "bottom", "labels": false, "title": null, "tickCount": {"interval": "month", "step": 3}, "tickSize": 5, "offset": -5}},
    "y": {"field": "v", "type": "quantitative", "axis": {"orient": "left", "title": "XCO₂ (ppm)", "values": [375, 380, 385, 390, 395, 400], "tickSize": 5, "offset": -5, "labelPadding": 6, "titlePadding": 14}}}},
  {"data": {"name": "green"}, "mark": {"type": "circle", "size": 28, "color": "#52b43f", "opacity": 1, "clip": true},
   "encoding": {"x": {"field": "d", "type": "temporal", "axis": {"orient": "bottom", "labels": false, "title": null, "tickCount": {"interval": "month", "step": 1}, "tickSize": 3, "offset": -3}},
    "y": {"field": "v", "type": "quantitative", "axis": {"orient": "left", "labels": false, "title": null, "values": [372,373,374,375,376,377,378,379,380,381,382,383,384,385,386,387,388,389,390,391,392,393,394,395,396,397,398,399,400,401,402,403], "tickSize": 3, "offset": -3}}}},
  {"data": {"name": "obs"}, "transform": [{"filter": "datum.p == 3"}], "mark": {"type": "errorbar", "ticks": true, "color": "#4553a6", "thickness": 1, "size": 5, "clip": true},
   "encoding": {"x": {"field": "d", "type": "temporal", "axis": null}, "y": {"field": "v", "type": "quantitative", "axis": null}, "yError": {"field": "e"}}},
  {"data": {"name": "obs"}, "transform": [{"filter": "datum.p == 3"}], "mark": {"type": "point", "shape": "circle", "filled": true, "fill": "white", "stroke": "#5060b2", "strokeWidth": 1.4, "size": 55, "opacity": 1, "clip": true},
   "encoding": {"x": {"field": "d", "type": "temporal", "axis": null}, "y": {"field": "v", "type": "quantitative", "axis": null}}},
  {"data": {"name": "ann"}, "transform": [{"filter": "datum.p == 3"}], "mark": {"type": "text", "font": "Liberation Serif", "fontStyle": "italic", "fontSize": 17.5, "align": "left", "baseline": "middle", "color": "#333"},
   "encoding": {"x": {"field": "d", "type": "temporal", "axis": null}, "y": {"field": "v", "type": "quantitative", "axis": null}, "text": {"field": "t"}}}
 ]},
{"title": "UoL FP: 3G", "width": 428, "height": 209, "resolve": {"axis": {"x": "independent", "y": "independent"}},
 "layer": [
  {"data": {"name": "cross"}, "transform": [{"filter": "datum.p == 4"}], "mark": {"type": "point", "shape": "M-1,-1L1,1M-1,1L1,-1", "filled": false, "size": 38, "strokeWidth": 1.3, "color": "#a3d6f2", "opacity": 0.8, "clip": true},
   "encoding": {"x": {"field": "d", "type": "temporal", "scale": {"type": "utc", "nice": false, "domain": [{"year": 2009, "month": 2, "date": 4, "utc": true}, {"year": 2011, "month": 4, "date": 23, "utc": true}]}, "axis": {"orient": "top", "labels": false, "title": null, "tickCount": {"interval": "month", "step": 1}, "tickSize": 3, "offset": -3}},
    "y": {"field": "v", "type": "quantitative", "scale": {"domain": [372, 403], "nice": false, "zero": false}, "axis": {"orient": "right", "labels": false, "title": null, "values": [372,373,374,375,376,377,378,379,380,381,382,383,384,385,386,387,388,389,390,391,392,393,394,395,396,397,398,399,400,401,402,403], "tickSize": 3, "offset": -3}}}},
  {"data": {"name": "red"}, "mark": {"type": "point", "shape": "M-1,0L1,0M0,-1L0,1", "filled": false, "size": 52, "strokeWidth": 1.7, "color": "#ec2524", "opacity": 0.9, "clip": true},
   "encoding": {"x": {"field": "d", "type": "temporal", "axis": {"orient": "bottom", "labels": false, "title": null, "tickCount": {"interval": "month", "step": 3}, "tickSize": 5, "offset": -5}},
    "y": {"field": "v", "type": "quantitative", "axis": {"orient": "left", "title": "XCO₂ (ppm)", "values": [375, 380, 385, 390, 395, 400], "tickSize": 5, "offset": -5, "labelPadding": 6, "titlePadding": 14}}}},
  {"data": {"name": "green"}, "mark": {"type": "circle", "size": 28, "color": "#52b43f", "opacity": 1, "clip": true},
   "encoding": {"x": {"field": "d", "type": "temporal", "axis": {"orient": "bottom", "labels": false, "title": null, "tickCount": {"interval": "month", "step": 1}, "tickSize": 3, "offset": -3}},
    "y": {"field": "v", "type": "quantitative", "axis": {"orient": "left", "labels": false, "title": null, "values": [372,373,374,375,376,377,378,379,380,381,382,383,384,385,386,387,388,389,390,391,392,393,394,395,396,397,398,399,400,401,402,403], "tickSize": 3, "offset": -3}}}},
  {"data": {"name": "obs"}, "transform": [{"filter": "datum.p == 4"}], "mark": {"type": "errorbar", "ticks": true, "color": "#4553a6", "thickness": 1, "size": 5, "clip": true},
   "encoding": {"x": {"field": "d", "type": "temporal", "axis": null}, "y": {"field": "v", "type": "quantitative", "axis": null}, "yError": {"field": "e"}}},
  {"data": {"name": "obs"}, "transform": [{"filter": "datum.p == 4"}], "mark": {"type": "point", "shape": "circle", "filled": true, "fill": "white", "stroke": "#5060b2", "strokeWidth": 1.4, "size": 55, "opacity": 1, "clip": true},
   "encoding": {"x": {"field": "d", "type": "temporal", "axis": null}, "y": {"field": "v", "type": "quantitative", "axis": null}}},
  {"data": {"name": "ann"}, "transform": [{"filter": "datum.p == 4"}], "mark": {"type": "text", "font": "Liberation Serif", "fontStyle": "italic", "fontSize": 17.5, "align": "left", "baseline": "middle", "color": "#333"},
   "encoding": {"x": {"field": "d", "type": "temporal", "axis": null}, "y": {"field": "v", "type": "quantitative", "axis": null}, "text": {"field": "t"}}}
 ]}
], "spacing": 14},
{"hconcat": [
{"title": "NIES PPDF-D", "width": 428, "height": 209, "resolve": {"axis": {"x": "independent", "y": "independent"}},
 "layer": [
  {"data": {"name": "cross"}, "transform": [{"filter": "datum.p == 5"}], "mark": {"type": "point", "shape": "M-1,-1L1,1M-1,1L1,-1", "filled": false, "size": 38, "strokeWidth": 1.3, "color": "#a3d6f2", "opacity": 0.8, "clip": true},
   "encoding": {"x": {"field": "d", "type": "temporal", "scale": {"type": "utc", "nice": false, "domain": [{"year": 2009, "month": 2, "date": 4, "utc": true}, {"year": 2011, "month": 4, "date": 23, "utc": true}]}, "axis": {"orient": "top", "labels": false, "title": null, "tickCount": {"interval": "month", "step": 1}, "tickSize": 3, "offset": -3}},
    "y": {"field": "v", "type": "quantitative", "scale": {"domain": [372, 403], "nice": false, "zero": false}, "axis": {"orient": "right", "labels": false, "title": null, "values": [372,373,374,375,376,377,378,379,380,381,382,383,384,385,386,387,388,389,390,391,392,393,394,395,396,397,398,399,400,401,402,403], "tickSize": 3, "offset": -3}}}},
  {"data": {"name": "red"}, "mark": {"type": "point", "shape": "M-1,0L1,0M0,-1L0,1", "filled": false, "size": 52, "strokeWidth": 1.7, "color": "#ec2524", "opacity": 0.9, "clip": true},
   "encoding": {"x": {"field": "d", "type": "temporal", "axis": {"orient": "bottom", "labels": true, "title": null, "tickCount": {"interval": "month", "step": 3}, "tickSize": 5, "offset": -5, "format": "%b %y", "labelAngle": -45, "labelAlign": "center", "labelBaseline": "middle", "labelPadding": 27, "labelOffset": -4, "labelFontSize": 13}},
    "y": {"field": "v", "type": "quantitative", "axis": {"orient": "left", "title": "XCO₂ (ppm)", "values": [375, 380, 385, 390, 395, 400], "tickSize": 5, "offset": -5, "labelPadding": 6, "titlePadding": 14}}}},
  {"data": {"name": "green"}, "mark": {"type": "circle", "size": 28, "color": "#52b43f", "opacity": 1, "clip": true},
   "encoding": {"x": {"field": "d", "type": "temporal", "axis": {"orient": "bottom", "labels": false, "title": null, "tickCount": {"interval": "month", "step": 1}, "tickSize": 3, "offset": -3}},
    "y": {"field": "v", "type": "quantitative", "axis": {"orient": "left", "labels": false, "title": null, "values": [372,373,374,375,376,377,378,379,380,381,382,383,384,385,386,387,388,389,390,391,392,393,394,395,396,397,398,399,400,401,402,403], "tickSize": 3, "offset": -3}}}},
  {"data": {"name": "obs"}, "transform": [{"filter": "datum.p == 5"}], "mark": {"type": "errorbar", "ticks": true, "color": "#4553a6", "thickness": 1, "size": 5, "clip": true},
   "encoding": {"x": {"field": "d", "type": "temporal", "axis": null}, "y": {"field": "v", "type": "quantitative", "axis": null}, "yError": {"field": "e"}}},
  {"data": {"name": "obs"}, "transform": [{"filter": "datum.p == 5"}], "mark": {"type": "point", "shape": "circle", "filled": true, "fill": "white", "stroke": "#5060b2", "strokeWidth": 1.4, "size": 55, "opacity": 1, "clip": true},
   "encoding": {"x": {"field": "d", "type": "temporal", "axis": null}, "y": {"field": "v", "type": "quantitative", "axis": null}}},
  {"data": {"name": "ann"}, "transform": [{"filter": "datum.p == 5"}], "mark": {"type": "text", "font": "Liberation Serif", "fontStyle": "italic", "fontSize": 17.5, "align": "left", "baseline": "middle", "color": "#333"},
   "encoding": {"x": {"field": "d", "type": "temporal", "axis": null}, "y": {"field": "v", "type": "quantitative", "axis": null}, "text": {"field": "t"}}}
 ]},
{"title": "Remo TeC", "width": 428, "height": 209, "resolve": {"axis": {"x": "independent", "y": "independent"}},
 "layer": [
  {"data": {"name": "cross"}, "transform": [{"filter": "datum.p == 6"}], "mark": {"type": "point", "shape": "M-1,-1L1,1M-1,1L1,-1", "filled": false, "size": 38, "strokeWidth": 1.3, "color": "#a3d6f2", "opacity": 0.8, "clip": true},
   "encoding": {"x": {"field": "d", "type": "temporal", "scale": {"type": "utc", "nice": false, "domain": [{"year": 2009, "month": 2, "date": 4, "utc": true}, {"year": 2011, "month": 4, "date": 23, "utc": true}]}, "axis": {"orient": "top", "labels": false, "title": null, "tickCount": {"interval": "month", "step": 1}, "tickSize": 3, "offset": -3}},
    "y": {"field": "v", "type": "quantitative", "scale": {"domain": [372, 403], "nice": false, "zero": false}, "axis": {"orient": "right", "labels": false, "title": null, "values": [372,373,374,375,376,377,378,379,380,381,382,383,384,385,386,387,388,389,390,391,392,393,394,395,396,397,398,399,400,401,402,403], "tickSize": 3, "offset": -3}}}},
  {"data": {"name": "red"}, "mark": {"type": "point", "shape": "M-1,0L1,0M0,-1L0,1", "filled": false, "size": 52, "strokeWidth": 1.7, "color": "#ec2524", "opacity": 0.9, "clip": true},
   "encoding": {"x": {"field": "d", "type": "temporal", "axis": {"orient": "bottom", "labels": true, "title": null, "tickCount": {"interval": "month", "step": 3}, "tickSize": 5, "offset": -5, "format": "%b %y", "labelAngle": -45, "labelAlign": "center", "labelBaseline": "middle", "labelPadding": 27, "labelOffset": -4, "labelFontSize": 13}},
    "y": {"field": "v", "type": "quantitative", "axis": {"orient": "left", "title": "XCO₂ (ppm)", "values": [375, 380, 385, 390, 395, 400], "tickSize": 5, "offset": -5, "labelPadding": 6, "titlePadding": 14}}}},
  {"data": {"name": "green"}, "mark": {"type": "circle", "size": 28, "color": "#52b43f", "opacity": 1, "clip": true},
   "encoding": {"x": {"field": "d", "type": "temporal", "axis": {"orient": "bottom", "labels": false, "title": null, "tickCount": {"interval": "month", "step": 1}, "tickSize": 3, "offset": -3}},
    "y": {"field": "v", "type": "quantitative", "axis": {"orient": "left", "labels": false, "title": null, "values": [372,373,374,375,376,377,378,379,380,381,382,383,384,385,386,387,388,389,390,391,392,393,394,395,396,397,398,399,400,401,402,403], "tickSize": 3, "offset": -3}}}},
  {"data": {"name": "obs"}, "transform": [{"filter": "datum.p == 6"}], "mark": {"type": "errorbar", "ticks": true, "color": "#4553a6", "thickness": 1, "size": 5, "clip": true},
   "encoding": {"x": {"field": "d", "type": "temporal", "axis": null}, "y": {"field": "v", "type": "quantitative", "axis": null}, "yError": {"field": "e"}}},
  {"data": {"name": "obs"}, "transform": [{"filter": "datum.p == 6"}], "mark": {"type": "point", "shape": "circle", "filled": true, "fill": "white", "stroke": "#5060b2", "strokeWidth": 1.4, "size": 55, "opacity": 1, "clip": true},
   "encoding": {"x": {"field": "d", "type": "temporal", "axis": null}, "y": {"field": "v", "type": "quantitative", "axis": null}}},
  {"data": {"name": "ann"}, "transform": [{"filter": "datum.p == 6"}], "mark": {"type": "text", "font": "Liberation Serif", "fontStyle": "italic", "fontSize": 17.5, "align": "left", "baseline": "middle", "color": "#333"},
   "encoding": {"x": {"field": "d", "type": "temporal", "axis": null}, "y": {"field": "v", "type": "quantitative", "axis": null}, "text": {"field": "t"}}}
 ]}
], "spacing": 14}
]
}
